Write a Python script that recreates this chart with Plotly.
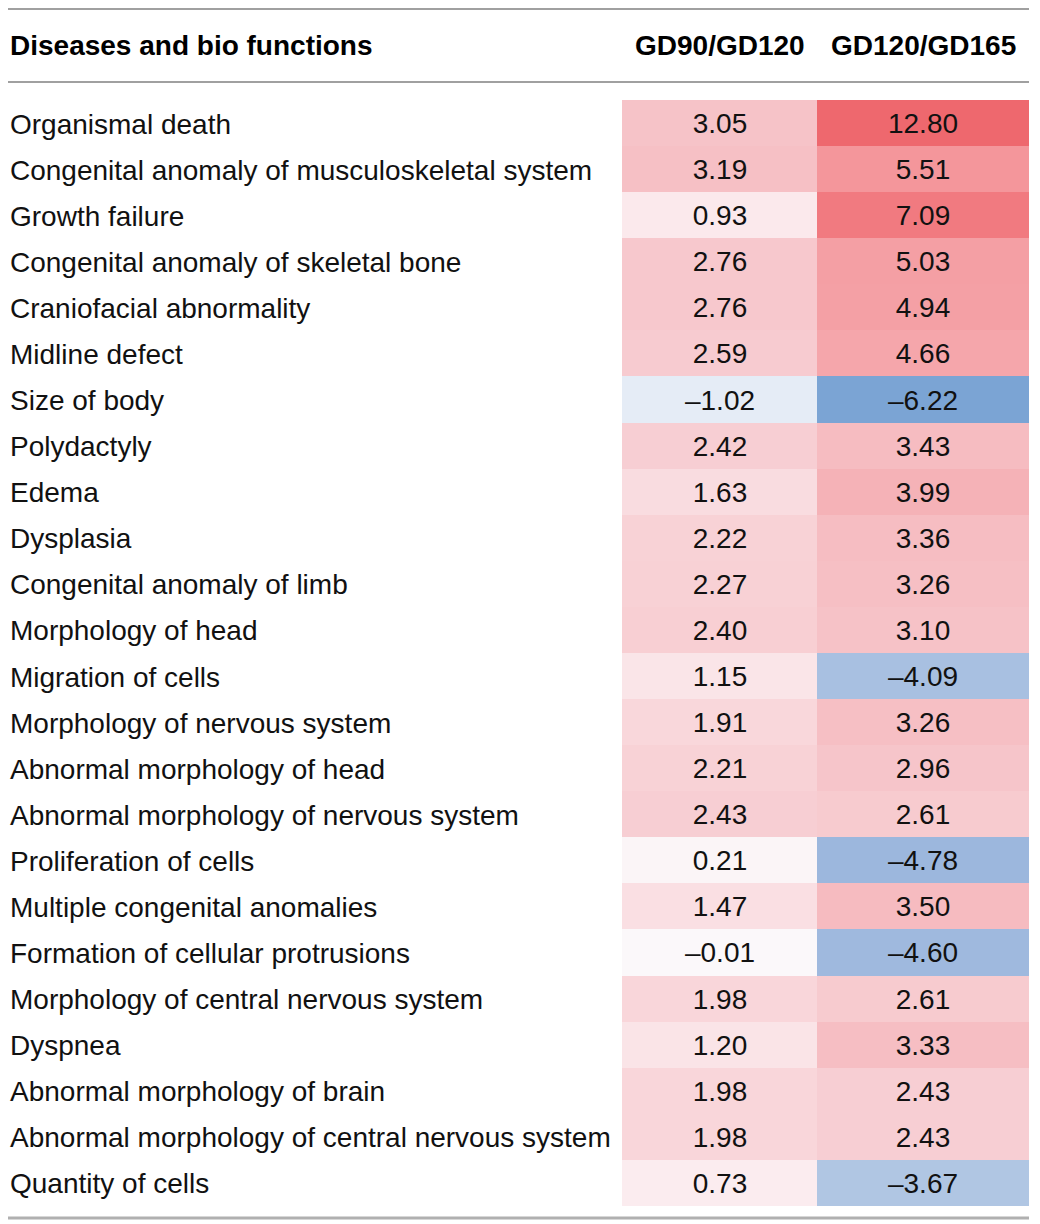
import plotly.graph_objects as go

categories = [
    "Organismal death",
    "Congenital anomaly of musculoskeletal system",
    "Growth failure",
    "Congenital anomaly of skeletal bone",
    "Craniofacial abnormality",
    "Midline defect",
    "Size of body",
    "Polydactyly",
    "Edema",
    "Dysplasia",
    "Congenital anomaly of limb",
    "Morphology of head",
    "Migration of cells",
    "Morphology of nervous system",
    "Abnormal morphology of head",
    "Abnormal morphology of nervous system",
    "Proliferation of cells",
    "Multiple congenital anomalies",
    "Formation of cellular protrusions",
    "Morphology of central nervous system",
    "Dyspnea",
    "Abnormal morphology of brain",
    "Abnormal morphology of central nervous system",
    "Quantity of cells",
]
gd90_gd120 = [3.05, 3.19, 0.93, 2.76, 2.76, 2.59, -1.02, 2.42, 1.63, 2.22, 2.27, 2.40,
              1.15, 1.91, 2.21, 2.43, 0.21, 1.47, -0.01, 1.98, 1.20, 1.98, 1.98, 0.73]
gd120_gd165 = [12.80, 5.51, 7.09, 5.03, 4.94, 4.66, -6.22, 3.43, 3.99, 3.36, 3.26, 3.10,
               -4.09, 3.26, 2.96, 2.61, -4.78, 3.50, -4.60, 2.61, 3.33, 2.43, 2.43, -3.67]
column_headers = ["GD90/GD120", "GD120/GD165"]
row_header = "Diseases and bio functions"

# ---- layout constants (page pixel space; the page body has an 8px margin) ----
PAGE_W, PAGE_H = 1040, 1224
OFF = 8
col_edges = [622, 817, 1029]
row_top, row_h = 100.0, 46.08
FONT = "Liberation Sans, Arial, Helvetica, sans-serif"
FS = 28

zmin, zmax = -6.22, 12.80
def pos(v):
    return (v - zmin) / (zmax - zmin)
stops = [(-6.22, "#7ba4d4"), (-4.78, "#9cb7dd"), (-3.67, "#b0c6e3"), (-1.02, "#e5ecf6"),
         (0.0, "#fbf8fa"), (0.93, "#fbe9ec"), (3.05, "#f6c3c8"), (5.51, "#f4969b"),
         (7.09, "#f17a80"), (12.80, "#ee686e")]
colorscale = [[pos(v), c] for v, c in stops]

def fmt(v):
    s = f"{v:.2f}"
    return s.replace("-", "\u2013")

z = [[a, b] for a, b in zip(gd90_gd120, gd120_gd165)]
txt = [[fmt(a), fmt(b)] for a, b in zip(gd90_gd120, gd120_gd165)]

fig = go.Figure()
fig.add_trace(go.Heatmap(
    z=z, x=col_edges, y0=row_top + row_h / 2, dy=row_h,
    text=txt, texttemplate="%{text}",
    textfont=dict(family=FONT, size=FS, color="#111111"),
    colorscale=colorscale, zmin=zmin, zmax=zmax, showscale=False,
    hoverinfo="skip",
))

annotations = []
for i, c in enumerate(categories):
    annotations.append(dict(x=8, y=row_top + row_h / 2 + i * row_h + 1, xref="x", yref="y",
                            text=c, showarrow=False, xanchor="left", yanchor="middle",
                            font=dict(family=FONT, size=FS, color="#111111")))
annotations.append(dict(x=8, y=45, xref="x", yref="y", text="<b>" + row_header + "</b>",
                        showarrow=False, xanchor="left", yanchor="middle",
                        font=dict(family=FONT, size=FS, color="#000")))
for j, h in enumerate(column_headers):
    annotations.append(dict(x=(col_edges[j] + col_edges[j + 1]) / 2, y=45, xref="x", yref="y",
                            text="<b>" + h + "</b>", showarrow=False, xanchor="center",
                            yanchor="middle", font=dict(family=FONT, size=FS, color="#000")))

shapes = [
    dict(type="line", x0=7, x1=1029, y0=9, y1=9, xref="x", yref="y",
         line=dict(color="#a0a0a0", width=2)),
    dict(type="line", x0=7, x1=1029, y0=82, y1=82, xref="x", yref="y",
         line=dict(color="#a0a0a0", width=2)),
    dict(type="line", x0=7, x1=1029, y0=1218, y1=1218, xref="x", yref="y",
         line=dict(color="#b0b0b0", width=3)),
]

fig.update_layout(
    width=PAGE_W - OFF, height=PAGE_H - OFF, margin=dict(l=0, r=0, t=0, b=0),
    paper_bgcolor="white", plot_bgcolor="white",
    xaxis=dict(range=[OFF, PAGE_W], visible=False, fixedrange=True),
    yaxis=dict(range=[PAGE_H, OFF], visible=False, fixedrange=True),
    annotations=annotations, shapes=shapes, showlegend=False,
)
fig.write_html("out.html")
